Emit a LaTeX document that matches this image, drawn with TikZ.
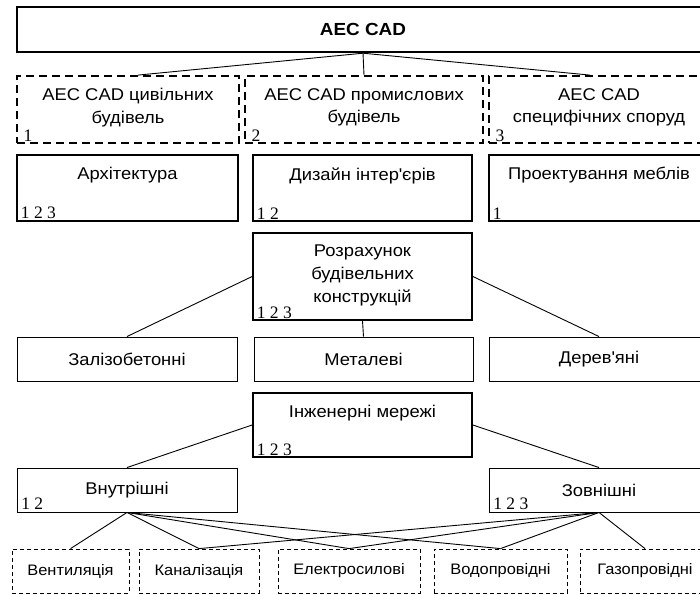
\documentclass[tikz,border=0pt]{standalone}
\usepackage{fontspec}
\setmainfont{Liberation Sans}[FakeStretch=1.08]
\newfontfamily\numfont{Liberation Serif}
\usetikzlibrary{calc}

\begin{document}
\begin{tikzpicture}[x=1pt,y=-1pt,
   font=\fontsize{17}{22.5}\selectfont,
   topbox/.style={draw,line width=2.4pt,minimum width=692,minimum height=45,font=\fontsize{17.5}{22.5}\selectfont\bfseries},
   groupbox/.style={draw,line width=1.8pt,dash pattern=on 8pt off 5pt,minimum height=67},
   areabox/.style={draw,line width=1.5pt,minimum height=66},
   keybox/.style={draw,line width=1.8pt,minimum width=219},
   subbox/.style={draw,line width=0.9pt,minimum height=44},
   leafbox/.style={draw,line width=0.8pt,dash pattern=on 4pt off 3pt,minimum height=44,font=\fontsize{15.2}{18}\selectfont},
   titlelab/.style={anchor=north,align=center,inner sep=0pt,yshift=-13},
   numlab/.style={anchor=south west,inner sep=2.5pt,xshift=2,font=\numfont\fontsize{17.5}{17.5}\selectfont},
   title/.style={label={[titlelab]north:#1}},
   nums/.style={label={[numlab]south west:#1}},
   conn/.style={line width=0.9pt}]
\useasboundingbox (0,0) rectangle (700,594);
%
       \node [topbox] at (363,29.5) (aec) {AEC CAD};
%
          \node [groupbox,minimum width=222,title={AEC CAD цивільних\\будівель},nums={\,1}] at (128,109.5) (civ) {};
          \node [groupbox,minimum width=238,title={AEC CAD промислових\\будівель},nums={\,2}] at (364,109.5) (prom) {};
          \node [groupbox,minimum width=220,title={AEC CAD\\специфічних споруд},nums={\,3}] at (599,109.5) (spec) {};
%
             \node [areabox,minimum width=221,title={Архітектура},nums={1 2 3}] at (127.5,188) (arch) {};
             \node [areabox,minimum width=219,title={Дизайн інтер\textquotesingle єрів},nums={1 2}] at (362.5,188) (design) {};
             \node [areabox,minimum width=220,title={Проектування меблів},nums={1}] at (599,188) (furn) {};
%
              \node [keybox,minimum height=87,title={Розрахунок\\будівельних\\конструкцій},titlelab/.append style={yshift=3},nums={1 2 3}] at (362.5,276.5) (calc) {};
%
                \node [subbox,minimum width=220] at (127,359) (concrete) {Залізобетонні};
                \node [subbox,minimum width=219] at (363.5,359) (metal) {Металеві};
                \node [subbox,minimum width=220] at (599,359) (wood) {Дерев\textquotesingle яні};
%
              \node [keybox,minimum height=64,title={Інженерні мережі},nums={1 2 3}] at (362.5,425) (nets) {};
%
                \node [subbox,minimum width=220,nums={1 2}] at (127,490) (inner) {Внутрішні};
                \node [subbox,minimum width=220,nums={1 2 3}] at (599,490) (outer) {Зовнішні};
%
                  \node [leafbox,minimum width=117] at (70.5,571) (vent) {Вентиляція};
                  \node [leafbox,minimum width=120] at (199,571) (sewer) {Каналізація};
                  \node [leafbox,minimum width=142] at (349,571) (power) {Електросилові};
                  \node [leafbox,minimum width=133] at (500.5,571) (water) {Водопровідні};
                  \node [leafbox,minimum width=130] at (645,571) (gas) {Газопровідні};
%
%
\path[conn] (aec.south) edge ([xshift=10]civ.north);
\path[conn] (aec.south) edge (prom.north);
\path[conn] (aec.south) edge ([xshift=-9]spec.north);
\path[conn] (calc.west) edge (concrete.north);
\path[conn] (calc.south) edge (metal.north);
\path[conn] (calc.east) edge (wood.north);
\path[conn] (nets.west) edge (inner.north);
\path[conn] (nets.east) edge (outer.north);
\path[conn] (inner.south) edge (vent.north);
\path[conn] (inner.south) edge (sewer.north);
\path[conn] (inner.south) edge (power.north);
\path[conn] (inner.south) edge (water.north);
\path[conn] (outer.south) edge (sewer.north);
\path[conn] (outer.south) edge (power.north);
\path[conn] (outer.south) edge (water.north);
\path[conn] (outer.south) edge (gas.north);

\end{tikzpicture}
\end{document}
